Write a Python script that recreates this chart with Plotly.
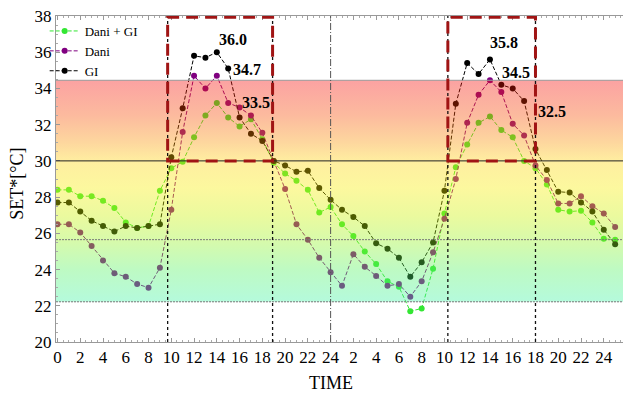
import plotly.graph_objects as go

hours = list(range(50))
tick_vals = list(range(0, 49, 2))
tick_text = ["0", "2", "4", "6", "8", "10", "12", "14", "16", "18", "20", "22", "24",
             "2", "4", "6", "8", "10", "12", "14", "16", "18", "20", "22", "24"]

dani_gi = [28.4, 28.4, 28.05, 28.05, 27.8, 27.4, 26.6, 26.3, 26.4, 28.35,
           29.6, 29.95, 31.3, 32.5, 33.2, 32.4, 31.9, 32.3, 31.2, 29.9,
           29.3, 28.9, 28.4, 27.15, 27.45, 26.5, 25.85, 25.0, 24.3, 23.35,
           23.05, 21.7, 21.85, 24.05, 27.1, 29.65, 30.9, 32.1, 32.45, 31.7,
           31.3, 30.0, 29.6, 28.7, 27.3, 27.2, 27.25, 26.6, 25.7, 25.65]
dani = [26.5, 26.5, 26.05, 25.3, 24.5, 23.8, 23.6, 23.2, 23.0, 24.1,
        27.3, 31.6, 34.7, 34.0, 34.7, 33.2, 32.95, 32.5, 31.55, 30.0,
        28.45, 26.5, 25.65, 24.65, 23.85, 23.1, 24.85, 24.15, 23.65, 23.1,
        23.2, 22.5, 23.35, 24.95, 26.8, 29.0, 32.1, 33.65, 34.45, 33.8,
        32.05, 31.4, 29.75, 28.95, 27.65, 27.65, 28.05, 27.5, 27.1, 26.35]
gi = [27.7, 27.7, 27.2, 26.7, 26.4, 26.1, 26.4, 26.3, 26.4, 26.5,
      30.2, 32.9, 35.8, 35.7, 36.0, 35.1, 32.4, 31.5, 31.1, 30.0,
      29.75, 29.4, 29.45, 28.5, 27.85, 27.3, 26.9, 26.4, 25.45, 25.15,
      24.65, 23.6, 24.4, 25.5, 28.35, 33.15, 35.4, 34.8, 35.6, 34.2,
      34.0, 33.3, 30.65, 29.5, 28.3, 28.25, 27.7, 27.2, 26.2, 25.4]

series_names = ["Dani + GI", "Dani", "GI"]
series_values = [dani_gi, dani, gi]
series_colors = ["#33e633", "#800080", "#000000"]

peak_labels = ["36.0", "34.7", "33.5", "35.8", "34.5", "32.5"]
peak_x = [15.38, 16.63, 17.44, 39.19, 40.33, 43.45]
peak_y = [36.71, 35.06, 33.23, 36.55, 34.89, 32.73]

X0, X1 = -0.13, 49.69
band_lo, band_hi = 22.22, 34.45
comfort_line = 25.65
boxes = [(9.68, 18.9), (34.3, 42.0)]
dotted_x = [9.68, 18.9, 34.3, 42.0]
midnight_x = 24

serif = "Liberation Serif, Times New Roman, serif"

fig = go.Figure()
for name, vals, col in zip(series_names, series_values, series_colors):
    fig.add_trace(go.Scatter(
        x=hours, y=vals, name=name, mode="lines+markers",
        line=dict(color=col, width=1, dash="4px,2px"),
        marker=dict(color=col, size=6),
    ))

# translucent gradient band drawn over the data
stops = [(22.22, (58, 242, 163)), (24.0, (84, 242, 97)), (25.6, (150, 242, 32)),
         (27.0, (203, 242, 0)), (28.5, (247, 237, 0)), (30.0, (255, 210, 5)),
         (31.0, (250, 150, 0)), (32.5, (247, 75, 0)), (34.45, (245, 10, 10))]
cs = [[(v - band_lo) / (band_hi - band_lo), "rgb(%d,%d,%d)" % c] for v, c in stops]
fig.add_trace(go.Scatter(
    x=[X0, X1, X1, X0, X0], y=[band_lo, band_lo, band_hi, band_hi, band_lo],
    fill="toself", mode="lines", line=dict(width=0),
    fillgradient=dict(type="vertical", colorscale=cs, start=band_lo, stop=band_hi),
    opacity=0.38, hoverinfo="skip", showlegend=False,
))

shapes = []
shapes.append(dict(type="line", xref="x", yref="y", x0=X0, x1=X1, y0=30, y1=30,
                   line=dict(color="#222", width=1), layer="above"))
shapes.append(dict(type="line", xref="x", yref="y", x0=X0, x1=X1, y0=band_hi, y1=band_hi,
                   line=dict(color="#999", width=1), layer="above"))
for yv in [comfort_line, band_lo]:
    shapes.append(dict(type="line", xref="x", yref="y", x0=X0, x1=X1, y0=yv, y1=yv,
                       line=dict(color="#777", width=1, dash="2px,1px"), layer="above"))
for xv in dotted_x:
    shapes.append(dict(type="line", xref="x", yref="y", x0=xv, x1=xv, y0=20, y1=38,
                       line=dict(color="#111", width=1.3, dash="dot"), layer="above"))
shapes.append(dict(type="line", xref="x", yref="y", x0=midnight_x, x1=midnight_x, y0=20, y1=38,
                   line=dict(color="#555", width=1, dash="7px,2px,1px,2px"), layer="above"))
for a, b in boxes:
    shapes.append(dict(type="rect", xref="x", yref="y", x0=a, x1=b, y0=30, y1=37.93,
                       line=dict(color="#a01414", width=3, dash="12px,7px"), layer="above"))

annotations = []
for t, xv, yv in zip(peak_labels, peak_x, peak_y):
    annotations.append(dict(x=xv, y=yv, xref="x", yref="y", text="<b>%s</b>" % t,
                            showarrow=False, font=dict(family=serif, size=16, color="#000")))
annotations.append(dict(x=0.485, y=-0.126, xref="paper", yref="paper", text="TIME",
                        xanchor="center", yanchor="middle",
                        showarrow=False, font=dict(family=serif, size=18, color="#000")))
annotations.append(dict(x=-0.069, y=0.485, xref="paper", yref="paper", text="SET*[°C]",
                        xanchor="center", yanchor="middle",
                        textangle=-90, showarrow=False,
                        font=dict(family=serif, size=18, color="#000")))

fig.update_layout(
    width=623, height=396,
    margin=dict(l=56, r=0, t=16, b=54),
    paper_bgcolor="white", plot_bgcolor="white",
    shapes=shapes, annotations=annotations,
    showlegend=True,
    legend=dict(x=-0.02, y=1.0, xanchor="left", yanchor="top",
                bgcolor="rgba(255,255,255,0)", font=dict(family=serif, size=13, color="#000"),
                tracegroupgap=2, itemwidth=30),
    xaxis=dict(range=[X0, X1], tickvals=tick_vals, ticktext=tick_text,
               showgrid=False, zeroline=False, showline=True, linecolor="#999",
               mirror="ticks", ticks="inside", ticklen=4, tickcolor="#999",
               minor=dict(ticks="inside", dtick=0.5, ticklen=2, tickcolor="#aaa"),
               tickfont=dict(family=serif, size=17, color="#000")),
    yaxis=dict(range=[20, 38], tickvals=list(range(20, 39, 2)),
               showgrid=False, zeroline=False, showline=True, linecolor="#999",
               ticks="inside", ticklen=4, tickcolor="#999",
               minor=dict(ticks="inside", dtick=0.5, ticklen=2, tickcolor="#aaa"),
               tickfont=dict(family=serif, size=17, color="#000")),
)

fig.write_html("out.html", config={"displayModeBar": False},
               post_script="document.body.style.margin='0px';")
